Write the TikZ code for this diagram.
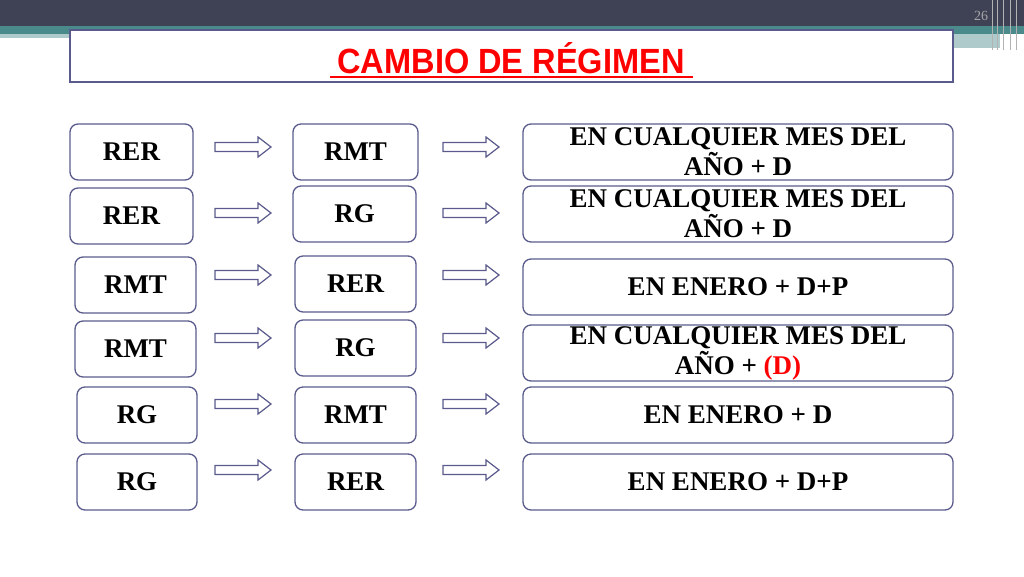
\documentclass[tikz,border=0pt]{standalone}
\usepackage{fontspec}
\setmainfont{Liberation Serif}
\newfontfamily\titlefont{Liberation Sans}
\definecolor{bord}{HTML}{5A5A8C}
\definecolor{dark}{HTML}{3F4155}
\definecolor{teal}{HTML}{4A8A8A}
\tikzset{
 bx/.style={draw=bord,line width=1.3pt,rounded corners=8pt,font=\bfseries\fontsize{27}{30}\selectfont,align=center,inner sep=0pt},
 harrow/.pic={\draw[bord,line width=1.2pt,fill=white] (0,-4.5)--(43,-4.5)--(43,-10)--(56,0)--(43,10)--(43,4.5)--(0,4.5)--cycle;}
}
\begin{document}
\begin{tikzpicture}[x=1pt,y=-1pt]
\useasboundingbox (0,0) rectangle (1024,576);
\fill[dark] (0,0) rectangle (1024,26);
\fill[teal] (0,26) rectangle (1024,34);
\fill[teal!45] (0,34) rectangle (70,38);
\fill[teal!45] (620,34) rectangle (1000,48);
\fill[white] (620,42) rectangle (950,45);
\foreach \xx in {992,997,1003,1010,1016} \draw[gray!60,line width=0.8pt] (\xx,0) -- (\xx,50);
\node[text=gray!70,font=\fontsize{14}{14}\selectfont] (pg) at (981,16) {26};
\node[draw=bord,line width=1.2pt,fill=white,minimum width=883pt,minimum height=52pt,inner sep=0pt] (tb) at (511.5,56) {};
\node[text=red,font=\titlefont\bfseries\fontsize{35}{36}\selectfont,xscale=0.93] (title) at (511,58) {CAMBIO DE RÉGIMEN};
\draw[red,line width=2.5pt] (330,77) -- (693,77);
% rows
\foreach \n/\ax/\aw/\bx/\bw/\y/\cy/\by/\t/\u/\v in {
 1/70/123/293/125/152/152/152/RER/RMT/{EN CUALQUIER MES DEL\\AÑO + D},
 2/70/123/293/123/216/214/214/RER/RG/{EN CUALQUIER MES DEL\\AÑO + D},
 3/75/121/295/121/285/287/284/RMT/RER/{EN ENERO + D+P},
 4/75/121/295/121/349/353/348/RMT/RG/{EN CUALQUIER MES DEL\\AÑO + \textcolor{red}{(D)}},
 5/77/120/295/121/415/415/415/RG/RMT/{EN ENERO + D},
 6/77/120/295/121/482/482/482/RG/RER/{EN ENERO + D+P}}{
 \node[bx,minimum width=\aw pt,minimum height=56pt] (a\n) at (\ax+\aw/2,\y) {\t};
 \node[bx,minimum width=\bw pt,minimum height=56pt] (b\n) at (\bx+\bw/2,\by) {\u};
 \node[bx,minimum width=430pt,minimum height=56pt] (c\n) at (738,\cy) {\v};
}
\foreach \y [count=\i] in {147,213,275,338,404,470}{
 \pic at (215,\y) {harrow};
 \pic at (443,\y) {harrow};
}
\end{tikzpicture}
\end{document}
